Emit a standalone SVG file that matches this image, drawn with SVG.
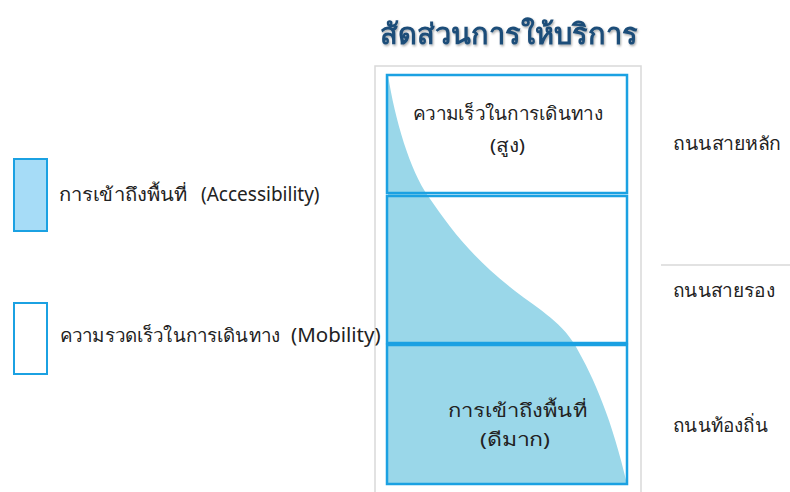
<svg xmlns="http://www.w3.org/2000/svg" width="790" height="492" viewBox="0 0 790 492">
<defs>
<style>
text{font-family:"Noto Sans","DejaVu Sans","Liberation Sans",sans-serif;fill:#222;}
.lbl{font-size:18.5px;}
.mid{text-anchor:middle;}
.box{fill:none;stroke:#1ba1e2;stroke-width:2.5;}
.frame{fill:none;stroke:#d9d9d9;stroke-width:1.5;}
</style>
<filter id="sh" x="-5%" y="-20%" width="110%" height="140%">
<feDropShadow dx="1" dy="1.5" stdDeviation="1" flood-color="#000" flood-opacity="0.35"/>
</filter>
</defs>
<rect width="790" height="492" fill="#fff"/>
<g id="title">
<text x="509" y="44" class="mid" style="font-size:29px;font-weight:bold;fill:#1f4e79" filter="url(#sh)">สัดส่วนการให้บริการ</text>
</g>
<g id="frame">
<path class="frame" d="M375,492 V66 H641 V492"/>
<line x1="661" y1="265" x2="790" y2="265" stroke="#d9d9d9" stroke-width="1.5"/>
</g>
<g id="area">
<path d="M388,75 C395,120 410,170 428,196 C450,228 470,255 510,287 C535,307 560,320 575,345 C595,380 612,420 627,484 L388,484 Z" fill="#9ad7e9"/>
</g>
<g id="box-mobility">
<rect class="box" x="387" y="75" width="240" height="118"/>
<text x="413" y="120" class="lbl" textLength="190" lengthAdjust="spacingAndGlyphs">ความเร็วในการเดินทาง</text>
<text x="490" y="152" class="lbl" textLength="35" lengthAdjust="spacingAndGlyphs">(สูง)</text>
</g>
<g id="box-middle">
<rect class="box" x="387" y="196" width="240" height="147"/>
</g>
<g id="box-access">
<rect class="box" x="387" y="345" width="240" height="139"/>
<text x="448" y="417" class="lbl" textLength="139" lengthAdjust="spacingAndGlyphs">การเข้าถึงพื้นที่</text>
<text x="480" y="446" class="lbl" textLength="70" lengthAdjust="spacingAndGlyphs">(ดีมาก)</text>
</g>
<g id="legend-access">
<rect x="14" y="159" width="33" height="72" fill="#a6dcf7" stroke="#1ba1e2" stroke-width="2"/>
<text x="59" y="201" class="lbl" textLength="128" lengthAdjust="spacingAndGlyphs">การเข้าถึงพื้นที่</text>
<text x="201" y="201" style="font-size:19px">(Accessibility)</text>
</g>
<g id="legend-mobility">
<rect x="14" y="303" width="33" height="71" fill="#fff" stroke="#1ba1e2" stroke-width="2"/>
<text x="60" y="342" class="lbl" textLength="220" lengthAdjust="spacingAndGlyphs">ความรวดเร็วในการเดินทาง</text>
<text x="291" y="342" style="font-size:20.5px">(Mobility)</text>
</g>
<g id="road-labels">
<text x="673" y="150" class="lbl" textLength="108" lengthAdjust="spacingAndGlyphs">ถนนสายหลัก</text>
<text x="673" y="297" class="lbl" textLength="102" lengthAdjust="spacingAndGlyphs">ถนนสายรอง</text>
<text x="673" y="432" class="lbl" textLength="95" lengthAdjust="spacingAndGlyphs">ถนนท้องถิ่น</text>
</g>
</svg>
